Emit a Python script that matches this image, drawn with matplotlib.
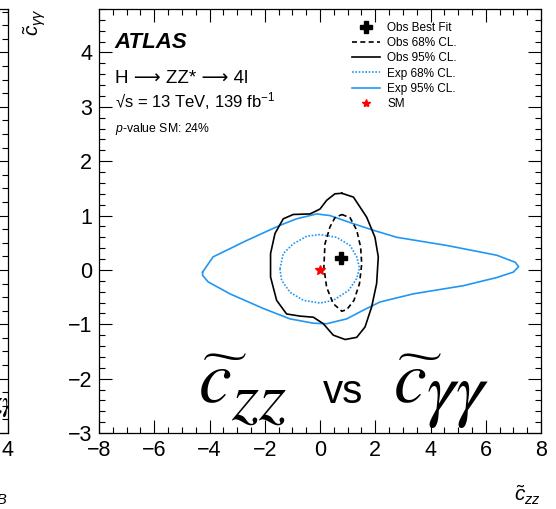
import matplotlib.pyplot as plt
from matplotlib.lines import Line2D
from matplotlib.ticker import MultipleLocator

plt.rcParams['font.family'] = ['Liberation Sans', 'DejaVu Sans']
plt.rcParams['mathtext.fontset'] = 'custom'
plt.rcParams['mathtext.rm'] = 'Liberation Sans'
plt.rcParams['mathtext.it'] = 'Liberation Sans:italic'
plt.rcParams['mathtext.bf'] = 'Liberation Sans:bold'

BLUE = '#2196f3'

# expected 95% CL contour (c_zz, c_gammagamma)
exp95_x = [-4.25, -3.87, -2.66, -1.45, -0.85, -0.12, 0.36, 1.21, 1.93, 2.78, 4.59, 6.40, 7.07, 7.19,
           7.00, 6.40, 5.19, 3.38, 2.17, 1.57, 0.97, 0.24, -0.24, -1.09, -2.05, -3.26, -4.05, -4.25]
exp95_y = [-0.04, 0.24, 0.54, 0.82, 0.94, 1.03, 1.00, 0.85, 0.73, 0.60, 0.45, 0.27, 0.14, 0.06,
           -0.04, -0.14, -0.29, -0.44, -0.59, -0.74, -0.90, -0.99, -0.98, -0.90, -0.71, -0.44, -0.22, -0.10]

# expected 68% CL contour
exp68_x = [-1.45, -1.33, -0.97, -0.48, 0.00, 0.60, 1.09, 1.33, 1.43, 1.33, 1.03, 0.48, 0.00, -0.60, -1.09, -1.39]
exp68_y = [0.02, 0.30, 0.48, 0.62, 0.65, 0.60, 0.45, 0.24, 0.04, -0.16, -0.38, -0.56, -0.61, -0.56, -0.41, -0.19]

# observed 68% CL contour
obs68_x = [0.79, 1.09, 1.33, 1.47, 1.51, 1.43, 1.23, 0.97, 0.79, 0.48, 0.24, 0.14, 0.18, 0.36, 0.54]
obs68_y = [1.02, 0.96, 0.73, 0.42, 0.11, -0.25, -0.56, -0.73, -0.76, -0.62, -0.32, 0.05, 0.48, 0.79, 0.96]

# observed 95% CL contour
obs95_x = [0.79, 1.21, 1.69, 1.99, 2.11, 2.05, 1.87, 1.63, 1.33, 0.91, 0.48, 0.12, -0.24, -0.72,
           -1.21, -1.57, -1.79, -1.79, -1.63, -1.33, -0.97, -0.36, 0.00, 0.24, 0.54]
obs95_y = [1.41, 1.34, 0.97, 0.60, 0.24, -0.25, -0.68, -1.05, -1.24, -1.28, -1.20, -0.99, -0.87, -0.85,
           -0.81, -0.56, -0.13, 0.30, 0.67, 0.94, 1.02, 1.03, 1.12, 1.28, 1.40]

best_fit = (0.76, 0.22)
sm_point = (0.0, 0.0)

x_ticks = [-8, -6, -4, -2, 0, 2, 4, 6, 8]
y_ticks = [-3, -2, -1, 0, 1, 2, 3, 4]


def closed(xs, ys):
    return list(xs) + [xs[0]], list(ys) + [ys[0]]


def style_ticks(a, xminor, yminor):
    a.xaxis.set_minor_locator(MultipleLocator(xminor))
    a.yaxis.set_minor_locator(MultipleLocator(yminor))
    a.tick_params(which='both', direction='in', top=True, right=True, width=0.8)
    a.tick_params(which='major', length=9.5, pad=5, labelsize=15.5)
    a.tick_params(which='minor', length=4.5)
    for s in a.spines.values():
        s.set_linewidth(0.9)


fig = plt.figure(figsize=(5.56, 5.09), dpi=100)

# neighbouring panel, mostly outside the canvas
ax0 = fig.add_axes([(7.5 - 442) / 556, 76 / 509, 442 / 556, 424 / 509])
ax0.set_xlim(-4, 4)
ax0.set_ylim(-3, 4.8)
ax0.set_xticks([-4, -2, 0, 2, 4])
ax0.set_yticks(y_ticks)
style_ticks(ax0, 0.5, 0.25)
ax0.tick_params(labelleft=False)
fig.text(7.5 / 556, 1 - 507 / 509, r'$\tilde{c}_{HB}$', ha='right', va='bottom', fontsize=15)
ax0.text(4.15, -2.5, r'$\widetilde{c}_{z\gamma}$', ha='right', va='baseline', fontsize=30,
         math_fontfamily='stix', clip_on=True)

ax = fig.add_axes([99 / 556, 76 / 509, 442 / 556, 424 / 509])
ax.set_xlim(-8, 8)
ax.set_ylim(-3, 4.8)
ax.set_xticks(x_ticks)
ax.set_yticks(y_ticks)
style_ticks(ax, 0.5, 0.2)

ax.plot(*closed(exp95_x, exp95_y), color=BLUE, lw=1.2)
ax.plot(*closed(exp68_x, exp68_y), color=BLUE, lw=1.2, ls=(0, (1, 1)))
ax.plot(*closed(obs95_x, obs95_y), color='black', lw=1.2)
ax.plot(*closed(obs68_x, obs68_y), color='black', lw=1.2, ls=(0, (3, 2)))
ax.plot(*best_fit, marker='P', color='black', ms=8, ls='none')
ax.plot(*sm_point, marker='*', color='red', ms=7, ls='none')

# axis titles at the axis ends
fig.text(541 / 556, 1 - 507 / 509, r'$\tilde{c}_{zz}$', ha='right', va='bottom', fontsize=15)
fig.text(35 / 556, 1 - 8 / 509, r'$\tilde{c}_{\gamma\gamma}$', ha='center', va='top',
         rotation=90, fontsize=15)

ax.text(0.036, 0.908, 'ATLAS', transform=ax.transAxes, fontsize=16, fontweight='bold', style='italic')
ax.text(0.036, 0.825, 'H ⟶ ZZ* ⟶ 4l', transform=ax.transAxes, fontsize=13.5)
ax.text(0.036, 0.769, '√s = 13 TeV, 139 fb$^{-1}$', transform=ax.transAxes, fontsize=12)
ax.text(0.036, 0.710, '$p$-value SM: 24%', transform=ax.transAxes, fontsize=8.8)

# large title inside the frame: c~_zz vs c~_gammagamma
ax.text(-4.42, -2.45, r'$\widetilde{c\,}$', fontsize=53, va='baseline', math_fontfamily='stix')
ax.text(-3.22, -2.76, r'$zz$', fontsize=50, va='baseline', math_fontfamily='stix')
ax.text(0.11, -2.45, 'vs', fontsize=29, va='baseline')
ax.text(2.65, -2.45, r'$\widetilde{c\,}$', fontsize=53, va='baseline', math_fontfamily='stix')
ax.text(3.85, -2.63, r'$\gamma\gamma$', fontsize=52, va='baseline', math_fontfamily='stix')

handles = [
    Line2D([], [], marker='P', color='black', ms=8, ls='none'),
    Line2D([], [], color='black', lw=1.2, ls=(0, (3, 2))),
    Line2D([], [], color='black', lw=1.2),
    Line2D([], [], color=BLUE, lw=1.2, ls=(0, (1, 1))),
    Line2D([], [], color=BLUE, lw=1.2),
    Line2D([], [], marker='*', color='red', ms=6, ls='none'),
]
labels = ['Obs Best Fit', 'Obs 68% CL.', 'Obs 95% CL.', 'Exp 68% CL.', 'Exp 95% CL.', 'SM']
ax.legend(handles, labels, loc='upper left', bbox_to_anchor=((352 - 99) / 442, (433 - 22) / 424),
          frameon=False, fontsize=8.5, borderpad=0, borderaxespad=0, handlelength=2.4,
          handletextpad=0.6, labelspacing=0.27)

fig.savefig('out.png', dpi=100)
